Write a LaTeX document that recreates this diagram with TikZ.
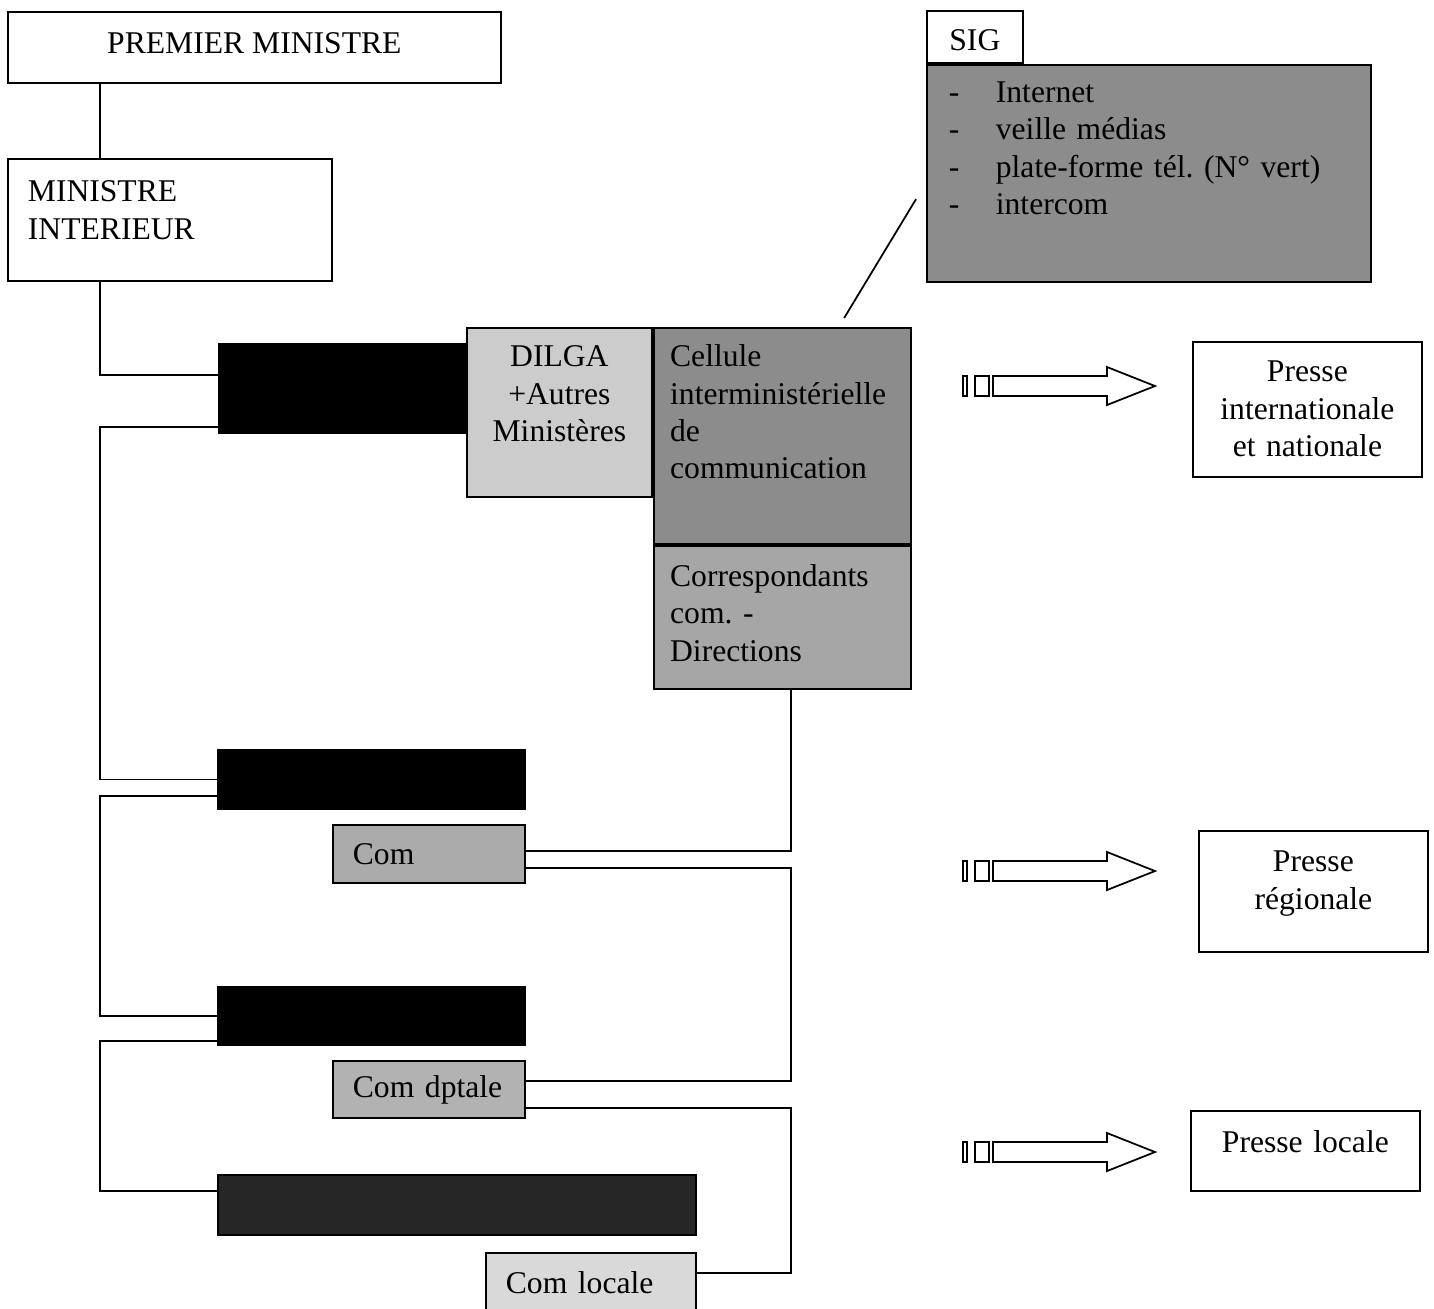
\documentclass[tikz,border=0pt]{standalone}
\usepackage{fontspec}
\setmainfont{Liberation Serif}
\usetikzlibrary{positioning, calc}
\frenchspacing

\begin{document}
\begin{tikzpicture}[x=0.1mm, y=-0.1mm,
  box/.style={draw, line width=0.5pt, anchor=north west, inner ysep=0pt,
              inner xsep=2mm, font=\fontsize{9}{10.6}\selectfont},
  hd/.style 2 args={text height=#1, text depth=#2},
  dark/.style={box, fill=black},
  link/.style={line width=0.5pt}]
\useasboundingbox (0,0) rectangle (1434,1308);

% hierarchy, left column
\node[box, minimum width=49.3mm, hd={4.2mm}{2.9mm}] (PM) at (7,11) {PREMIER MINISTRE};
\node[box, text width=28.4mm, align=left, hd={4.3mm}{7.9mm}] (MI) at (7,158)
  {MINISTRE\\INTERIEUR};
\node[dark, minimum width=24.9mm, minimum height=8.9mm] (B1) at (218,343) {};
\node[dark, minimum width=30.7mm, minimum height=5.9mm] (B2) at (217,749) {};
\node[dark, minimum width=30.7mm, minimum height=5.8mm] (B3) at (217,986) {};
\node[dark, fill=black!85, minimum width=47.8mm, minimum height=6mm] (B4) at (217,1174) {};

% communication cells
\node[box, fill=black!20, text width=16.5mm, inner xsep=1mm, align=center,
      hd={3.9mm}{13mm}] (DILGA) at (466,327) {DILGA\\+Autres\\Ministères};
\node[box, fill=black!45, text width=22.4mm, inner xsep=1.65mm, align=left,
      hd={3.9mm}{17.7mm}] (Cell) at (DILGA.north east)
  {Cellule\\interministérielle\\de\\communication};
\node[box, fill=black!35, text width=22.4mm, inner xsep=1.65mm, align=left,
      hd={4.1mm}{10.2mm}] (Corr) at (Cell.south west)
  {Correspondants\\com. -\\Directions};
\node[box, minimum width=9.6mm, hd={4mm}{1.2mm}] (SIG) at (926,10) {SIG};
\node[box, fill=black!45, text width=40mm, inner xsep=2.2mm, align=left,
      hd={3.8mm}{17.9mm}] (SIGlist) at (SIG.south west)
  {\makebox[4.7mm][l]{-}Internet\\
   \makebox[4.7mm][l]{-}veille médias\\
   \makebox[4.7mm][l]{-}plate-forme tél. (N° vert)\\
   \makebox[4.7mm][l]{-}intercom};
\node[box, fill=black!33, text width=15.2mm, align=left, minimum height=5.8mm] (Com)
  at (332,824) {Com};
\node[box, fill=black!30, text width=15.2mm, align=left, minimum height=5.7mm] (ComD)
  at (332,1060) {Com dptale};
\node[box, fill=black!15, text width=17mm, align=left, minimum height=6mm] (ComL)
  at (485,1252) {Com locale};

% press
\node[box, text width=21mm, inner xsep=0.95mm, align=center, hd={4mm}{9.5mm}] (PInt)
  at (1192,341) {Presse\\internationale\\et nationale};
\node[box, text width=21mm, inner xsep=0.95mm, align=center, hd={4.1mm}{8mm}] (PReg)
  at (1198,830) {Presse\\régionale};
\node[box, text width=21mm, inner xsep=0.95mm, align=center, hd={4.2mm}{3.8mm}] (PLoc)
  at (1190,1110) {Presse locale};

% left trunk
\coordinate (trunk) at (100,0);
\draw[link] (PM.south -| trunk) -- (MI.north -| trunk);
\draw[link] (MI.south -| trunk) |- ([yshift=1.35mm]B1.west);
\draw[link] ([yshift=-3.85mm]B1.west) -| (trunk |- B2.west) -- (B2.west);
\draw[link] ([yshift=-1.65mm]B2.west) -| (trunk |- B3.west) -- (B3.west);
\draw[link] ([yshift=-2.5mm]B3.west) -| ([yshift=1.4mm]trunk |- B4.west) -- ([yshift=1.4mm]B4.west);

% right bus
\coordinate (bus) at (791,0);
\draw[link] (Corr.south -| bus) |- ([yshift=0.3mm]Com.east);
\draw[link] ([yshift=-1.4mm]Com.east) -| ([yshift=0.85mm]bus |- ComD.east) -- ([yshift=0.85mm]ComD.east);
\draw[link] ([yshift=-1.85mm]ComD.east) -| ([yshift=1mm]bus |- ComL.east) -- ([yshift=1mm]ComL.east);
\draw[link] ($(Cell.north)+(62,-9)$) -- ($(SIGlist.west)+(-10,26)$);

% block arrows
\foreach \y in {386,871,1152} {
  \draw[link] (963,\y-10) rectangle (967,\y+10);
  \draw[link] (975,\y-10) rectangle (989,\y+10);
  \draw[link] (993,\y-10) -- (1107,\y-10) -- (1107,\y-19) -- (1155,\y)
    -- (1107,\y+19) -- (1107,\y+10) -- (993,\y+10) -- cycle;
}
\end{tikzpicture}
\end{document}
